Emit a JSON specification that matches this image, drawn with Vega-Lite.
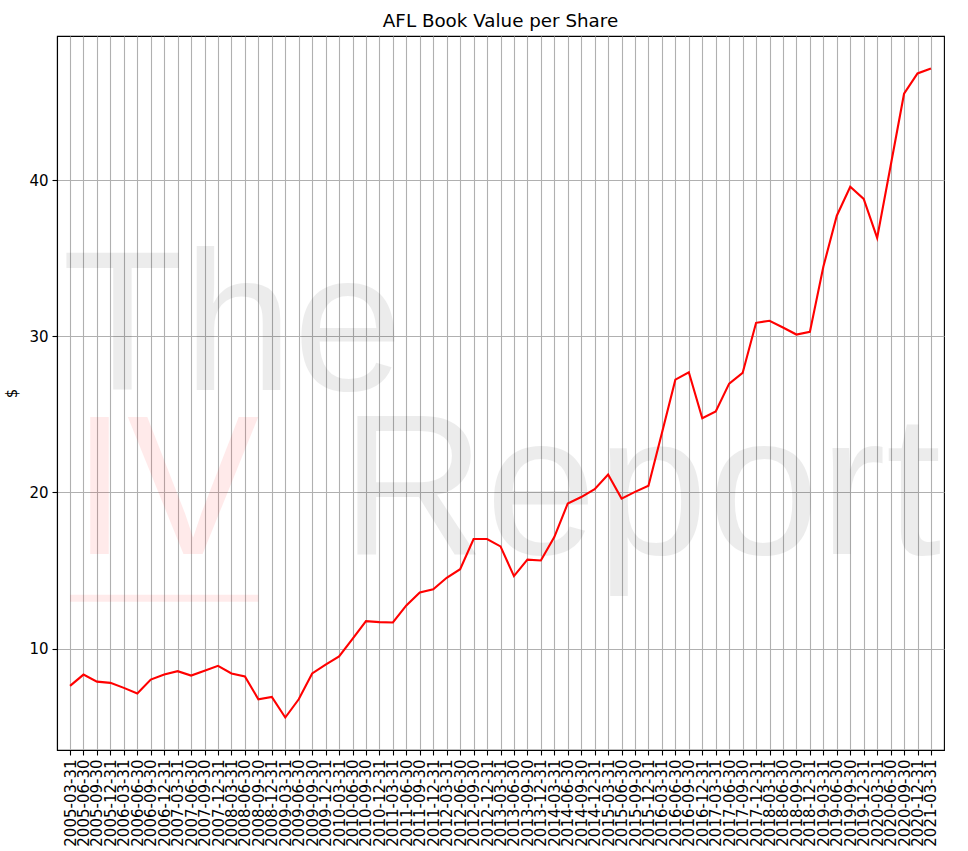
{
  "$schema": "https://vega.github.io/schema/vega-lite/v6.json",
  "autosize": {"type": "none"},
  "width": 887,
  "height": 714,
  "padding": {"left": 57, "top": 36, "right": 24, "bottom": 101},
  "background": "white",
  "title": {"text": "AFL Book Value per Share", "font": "DejaVu Sans", "fontSize": 18.3, "fontWeight": "normal", "color": "black", "offset": 5},
  "config": {
    "view": {"stroke": "black", "strokeWidth": 1.1},
    "axis": {"labelFont": "DejaVu Sans", "titleFont": "DejaVu Sans", "labelColor": "black", "titleColor": "black", "domainColor": "black", "tickColor": "black", "gridColor": "#b0b0b0", "gridWidth": 1.1, "gridOpacity": 1, "tickSize": 5, "tickWidth": 1.1, "domainWidth": 1.1, "labelFontSize": 15, "titleFontSize": 15, "titleFontWeight": "normal"}
  },
  "datasets": {
    "bvps": [
      {"date": "2005-03-31", "value": 7.61},
      {"date": "2005-06-30", "value": 8.33},
      {"date": "2005-09-30", "value": 7.88},
      {"date": "2005-12-31", "value": 7.80},
      {"date": "2006-03-31", "value": 7.48},
      {"date": "2006-06-30", "value": 7.12},
      {"date": "2006-09-30", "value": 8.01},
      {"date": "2006-12-31", "value": 8.33},
      {"date": "2007-03-31", "value": 8.55},
      {"date": "2007-06-30", "value": 8.27},
      {"date": "2007-09-30", "value": 8.57},
      {"date": "2007-12-31", "value": 8.89},
      {"date": "2008-03-31", "value": 8.40},
      {"date": "2008-06-30", "value": 8.21},
      {"date": "2008-09-30", "value": 6.75},
      {"date": "2008-12-31", "value": 6.90},
      {"date": "2009-03-31", "value": 5.58},
      {"date": "2009-06-30", "value": 6.75},
      {"date": "2009-09-30", "value": 8.40},
      {"date": "2009-12-31", "value": 8.97},
      {"date": "2010-03-31", "value": 9.49},
      {"date": "2010-06-30", "value": 10.62},
      {"date": "2010-09-30", "value": 11.75},
      {"date": "2010-12-31", "value": 11.69},
      {"date": "2011-03-31", "value": 11.67},
      {"date": "2011-06-30", "value": 12.76},
      {"date": "2011-09-30", "value": 13.59},
      {"date": "2011-12-31", "value": 13.80},
      {"date": "2012-03-31", "value": 14.53},
      {"date": "2012-06-30", "value": 15.08},
      {"date": "2012-09-30", "value": 17.01},
      {"date": "2012-12-31", "value": 17.01},
      {"date": "2013-03-31", "value": 16.54},
      {"date": "2013-06-30", "value": 14.64},
      {"date": "2013-09-30", "value": 15.69},
      {"date": "2013-12-31", "value": 15.64},
      {"date": "2014-03-31", "value": 17.14},
      {"date": "2014-06-30", "value": 19.29},
      {"date": "2014-09-30", "value": 19.70},
      {"date": "2014-12-31", "value": 20.21},
      {"date": "2015-03-31", "value": 21.15},
      {"date": "2015-06-30", "value": 19.60},
      {"date": "2015-09-30", "value": 20.03},
      {"date": "2015-12-31", "value": 20.43},
      {"date": "2016-03-31", "value": 23.8},
      {"date": "2016-06-30", "value": 27.22},
      {"date": "2016-09-30", "value": 27.69},
      {"date": "2016-12-31", "value": 24.75},
      {"date": "2017-03-31", "value": 25.18},
      {"date": "2017-06-30", "value": 26.97},
      {"date": "2017-09-30", "value": 27.65},
      {"date": "2017-12-31", "value": 30.86},
      {"date": "2018-03-31", "value": 30.99},
      {"date": "2018-06-30", "value": 30.56},
      {"date": "2018-09-30", "value": 30.11},
      {"date": "2018-12-31", "value": 30.28},
      {"date": "2019-03-31", "value": 34.45},
      {"date": "2019-06-30", "value": 37.72},
      {"date": "2019-09-30", "value": 39.57},
      {"date": "2019-12-31", "value": 38.80},
      {"date": "2020-03-31", "value": 36.30},
      {"date": "2020-06-30", "value": 40.90},
      {"date": "2020-09-30", "value": 45.53},
      {"date": "2020-12-31", "value": 46.83},
      {"date": "2021-03-31", "value": 47.15}
    ],
    "wm_the": [
      {"label": "The", "date": "2005-03-31", "value": 26.58}
    ],
    "wm_report": [
      {"label": "Report", "date": "2010-03-31", "value": 16.03}
    ],
    "wm_red": [
      {"label": "IV", "date": "2005-03-31", "value": 16.06}
    ],
    "wm_line": [
      {"date": "2005-03-31", "date2": "2008-09-30", "value": 13.22}
    ]
  },
  "encoding": {
    "x": {
      "field": "date", "type": "ordinal", "sort": null,
      "scale": {"type": "point", "padding": 0.97, "domain": ["2005-03-31","2005-06-30","2005-09-30","2005-12-31","2006-03-31","2006-06-30","2006-09-30","2006-12-31","2007-03-31","2007-06-30","2007-09-30","2007-12-31","2008-03-31","2008-06-30","2008-09-30","2008-12-31","2009-03-31","2009-06-30","2009-09-30","2009-12-31","2010-03-31","2010-06-30","2010-09-30","2010-12-31","2011-03-31","2011-06-30","2011-09-30","2011-12-31","2012-03-31","2012-06-30","2012-09-30","2012-12-31","2013-03-31","2013-06-30","2013-09-30","2013-12-31","2014-03-31","2014-06-30","2014-09-30","2014-12-31","2015-03-31","2015-06-30","2015-09-30","2015-12-31","2016-03-31","2016-06-30","2016-09-30","2016-12-31","2017-03-31","2017-06-30","2017-09-30","2017-12-31","2018-03-31","2018-06-30","2018-09-30","2018-12-31","2019-03-31","2019-06-30","2019-09-30","2019-12-31","2020-03-31","2020-06-30","2020-09-30","2020-12-31","2021-03-31"]},
      "axis": {"title": null, "labelAngle": 270, "labelPadding": 4, "grid": true}
    },
    "y": {
      "field": "value", "type": "quantitative",
      "scale": {"domain": [3.5, 49.23], "nice": false, "zero": false},
      "axis": {"title": "$", "values": [10, 20, 30, 40], "grid": true, "labelPadding": 4, "titlePadding": 9}
    }
  },
  "layer": [
    {
      "data": {"name": "wm_the"},
      "mark": {"type": "text", "font": "Liberation Sans", "fontSize": 198, "align": "left", "baseline": "alphabetic", "color": "black", "opacity": 0.07, "dx": -8},
      "encoding": {"text": {"field": "label"}}
    },
    {
      "data": {"name": "wm_report"},
      "mark": {"type": "text", "font": "Liberation Sans", "fontSize": 200, "align": "left", "baseline": "alphabetic", "color": "black", "opacity": 0.07, "dx": 2},
      "encoding": {"text": {"field": "label"}}
    },
    {
      "data": {"name": "wm_red"},
      "mark": {"type": "text", "font": "Liberation Sans", "fontSize": 198, "align": "left", "baseline": "alphabetic", "color": "red", "opacity": 0.08, "dx": 2},
      "encoding": {"text": {"field": "label"}}
    },
    {
      "data": {"name": "wm_line"},
      "mark": {"type": "rule", "color": "red", "opacity": 0.08, "strokeWidth": 7},
      "encoding": {"x2": {"field": "date2"}}
    },
    {
      "data": {"name": "bvps"},
      "mark": {"type": "line", "color": "red", "strokeWidth": 2.1},
      "encoding": {}
    }
  ]
}
